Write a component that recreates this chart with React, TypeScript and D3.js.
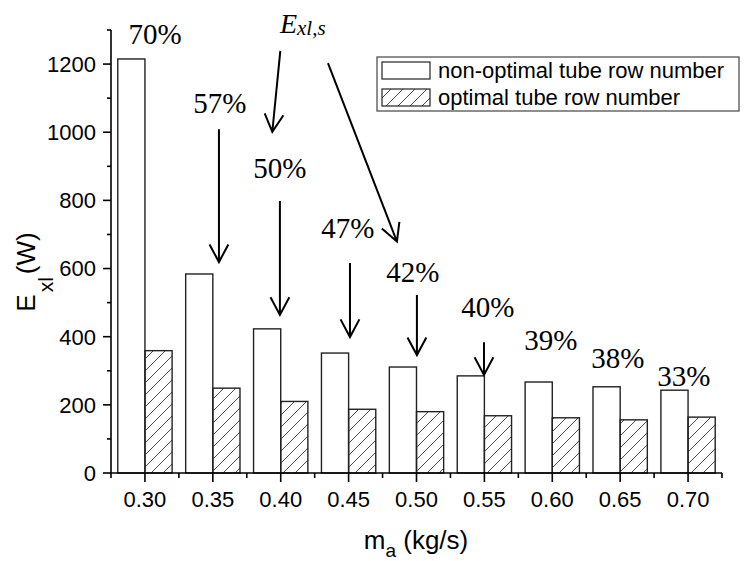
import React from "react";
import * as d3 from "d3";

const categories = ["0.30", "0.35", "0.40", "0.45", "0.50", "0.55", "0.60", "0.65", "0.70"];
const nonOptimal = [1215, 584, 423, 352, 311, 285, 267, 253, 243];
const optimal = [359, 249, 210, 187, 180, 168, 162, 156, 164];
const yTicks = [0, 200, 400, 600, 800, 1000, 1200];
const legendLabels = ["non-optimal tube row number", "optimal tube row number"];

// percentage labels: [text, x (kg/s), y (W) of baseline]
const pctLabels: [string, number, number][] = [
  ["70%", 0.3074, 1259],
  ["57%", 0.3552, 1056],
  ["50%", 0.3994, 866],
  ["47%", 0.4495, 690],
  ["42%", 0.4973, 560],
  ["40%", 0.5526, 458],
  ["39%", 0.599, 361],
  ["38%", 0.6483, 308],
  ["33%", 0.6969, 255],
];
// arrows: [x0, y0, x1(tip), y1(tip)] in data units
const arrows: [number, number, number, number][] = [
  [0.3545, 1009, 0.3545, 619],
  [0.3994, 798, 0.3994, 464],
  [0.451, 616, 0.451, 399],
  [0.5003, 522, 0.5003, 346],
  [0.5497, 384, 0.5497, 288],
  [0.3997, 1239, 0.3938, 1001],
  [0.4348, 1203, 0.4856, 679],
];

const W = 747, H = 561;
const x = d3.scaleLinear().domain([0.275, 0.725]).range([111, 722]);
const y = d3.scaleLinear().domain([0, 1300]).range([473, 30]);
const step = x(0.35) - x(0.3);
const barW = step * 0.4;

const sans = "'Liberation Sans', Arial, sans-serif";
const serif = "'Liberation Serif', 'Times New Roman', serif";

function arrowPath(x0: number, y0: number, x1: number, y1: number) {
  const ang = Math.atan2(y1 - y0, x1 - x0);
  const len = 20, spread = 0.49;
  const a1 = ang + Math.PI - spread, a2 = ang + Math.PI + spread;
  return `M${x0},${y0}L${x1},${y1}M${x1 + len * Math.cos(a1)},${y1 + len * Math.sin(a1)}L${x1},${y1}L${x1 + len * Math.cos(a2)},${y1 + len * Math.sin(a2)}`;
}

export default function App() {
  const catVals = categories.map((c) => +c);
  const minorY = d3.range(100, 1400, 200);
  const minorX = d3.range(0, 10).map((i) => 0.275 + i * 0.05);
  return (
    <svg width={W} height={H} style={{ position: "absolute", left: 0, top: 0, background: "#fff" }}>
      <defs>
        <pattern id="hatch" patternUnits="userSpaceOnUse" width={12} height={12}>
          <path d="M0,12L12,0M-3,3L3,-3M9,15L15,9" stroke="#333" strokeWidth={0.9} />
        </pattern>
      </defs>
      <rect x={0} y={0} width={W} height={H} fill="#fff" />
      {/* bars */}
      {catVals.map((c, i) => (
        <g key={i}>
          <rect x={x(c) - barW} y={y(nonOptimal[i])} width={barW} height={y(0) - y(nonOptimal[i])}
            fill="#fff" stroke="#222" strokeWidth={1.4} />
          <rect x={x(c)} y={y(optimal[i])} width={barW} height={y(0) - y(optimal[i])}
            fill="url(#hatch)" stroke="#222" strokeWidth={1.4} />
        </g>
      ))}
      {/* axes */}
      <line x1={x(0.275)} x2={x(0.275)} y1={y(0)} y2={y(1300)} stroke="#000" strokeWidth={1.6} />
      <line x1={x(0.275)} x2={x(0.725)} y1={y(0)} y2={y(0)} stroke="#000" strokeWidth={1.6} />
      {yTicks.map((t) => (
        <g key={t}>
          <line x1={x(0.275) - 8} x2={x(0.275)} y1={y(t)} y2={y(t)} stroke="#000" strokeWidth={1.6} />
          <text x={x(0.275) - 15} y={y(t)} dy="0.36em" textAnchor="end" fontFamily={sans} fontSize={22}>{t}</text>
        </g>
      ))}
      {minorY.map((t) => (
        <line key={t} x1={x(0.275) - 4} x2={x(0.275)} y1={y(t)} y2={y(t)} stroke="#000" strokeWidth={1.6} />
      ))}
      {catVals.map((c, i) => (
        <g key={i}>
          <line x1={x(c)} x2={x(c)} y1={y(0)} y2={y(0) + 9} stroke="#000" strokeWidth={1.6} />
          <text x={x(c)} y={507} textAnchor="middle" fontFamily={sans} fontSize={22}>{categories[i]}</text>
        </g>
      ))}
      {minorX.map((t, i) => (
        <line key={i} x1={x(t)} x2={x(t)} y1={y(0)} y2={y(0) + 5} stroke="#000" strokeWidth={1.6} />
      ))}
      {/* axis titles */}
      <text x={416} y={549} textAnchor="middle" fontFamily={sans} fontSize={26}>
        m<tspan fontSize={19} dy={8}>a</tspan><tspan dy={-8}> (kg/s)</tspan>
      </text>
      <text transform="translate(35,272) rotate(-90)" textAnchor="middle" fontFamily={sans} fontSize={26}>
        E<tspan fontSize={21} dx={2} dy={18}>xl</tspan><tspan dx={3} dy={-18}>(W)</tspan>
      </text>
      {/* annotations */}
      {pctLabels.map(([t, px, py], i) => (
        <text key={i} x={x(px)} y={y(py)} textAnchor="middle" fontFamily={serif} fontSize={29}>{t}</text>
      ))}
      {arrows.map(([a, b, c, d], i) => (
        <path key={i} d={arrowPath(x(a), y(b), x(c), y(d))} fill="none" stroke="#000" strokeWidth={2} />
      ))}
      <text x={x(0.3994)} y={y(1291)} fontFamily={serif} fontStyle="italic" fontSize={28}>
        E<tspan fontSize={21} dy={2}>xl,s</tspan>
      </text>
      {/* legend */}
      <rect x={377} y={57} width={362} height={54} fill="#fff" stroke="#444" strokeWidth={1.2} />
      <rect x={382} y={62} width={48} height={17} fill="#fff" stroke="#222" strokeWidth={1.2} />
      <rect x={382} y={89} width={48} height={17} fill="url(#hatch)" stroke="#222" strokeWidth={1.2} />
      <text x={438} y={78} fontFamily={sans} fontSize={22}>{legendLabels[0]}</text>
      <text x={438} y={105} fontFamily={sans} fontSize={22}>{legendLabels[1]}</text>
    </svg>
  );
}
